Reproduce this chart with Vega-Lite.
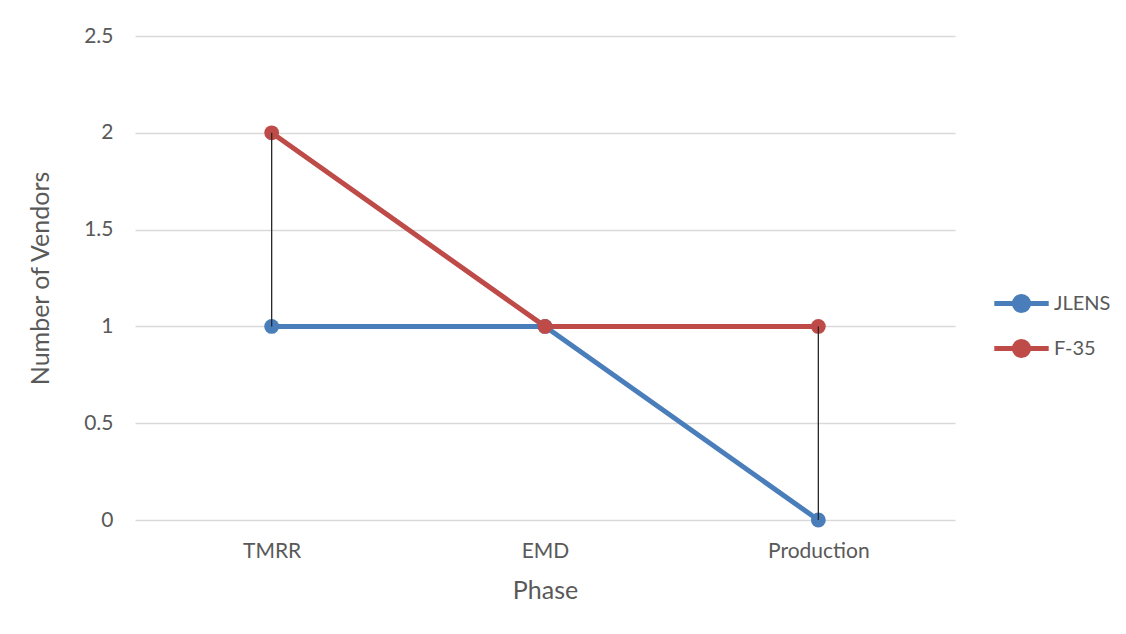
{
  "$schema": "https://vega.github.io/schema/vega-lite/v6.json",
  "width": 820,
  "height": 484,
  "padding": {"left": 135, "top": 36, "right": 171, "bottom": 114},
  "autosize": {"type": "none"},
  "background": "white",
  "config": {
    "font": "Lato",
    "view": {"stroke": null},
    "axis": {
      "labelFont": "Lato",
      "titleFont": "Lato",
      "labelColor": "#595959",
      "titleColor": "#595959",
      "titleFontWeight": "normal",
      "labelFontSize": 21,
      "titleFontSize": 25,
      "gridColor": "#D9D9D9",
      "gridWidth": 1.3,
      "domain": false,
      "ticks": false
    }
  },
  "datasets": {
    "vendors": [
      {"phase": "TMRR", "program": "JLENS", "count": 1},
      {"phase": "EMD", "program": "JLENS", "count": 1},
      {"phase": "Production", "program": "JLENS", "count": 0},
      {"phase": "TMRR", "program": "F-35", "count": 2},
      {"phase": "EMD", "program": "F-35", "count": 1},
      {"phase": "Production", "program": "F-35", "count": 1}
    ],
    "spread": [
      {"phase": "TMRR", "low": 1, "high": 2},
      {"phase": "EMD", "low": 1, "high": 1},
      {"phase": "Production", "low": 0, "high": 1}
    ]
  },
  "layer": [
    {
      "data": {"name": "vendors"},
      "mark": {"type": "line", "strokeWidth": 5, "point": {"filled": true, "size": 220, "opacity": 1}},
      "encoding": {
        "x": {
          "field": "phase",
          "type": "nominal",
          "sort": ["TMRR", "EMD", "Production"],
          "scale": {"type": "point", "padding": 0.5},
          "axis": {"labelAngle": 0, "labelPadding": 20, "title": "Phase", "titlePadding": 17, "grid": false}
        },
        "y": {
          "field": "count",
          "type": "quantitative",
          "scale": {"domain": [0, 2.5], "nice": false},
          "axis": {"values": [0, 0.5, 1, 1.5, 2, 2.5], "format": "~g", "labelPadding": 22, "title": "Number of Vendors", "titlePadding": 30}
        },
        "color": {
          "field": "program",
          "type": "nominal",
          "scale": {"domain": ["JLENS", "F-35"], "range": ["#4A7EBB", "#BE4B48"]},
          "legend": {
            "title": null,
            "orient": "none",
            "legendX": 870,
            "legendY": 251,
            "symbolType": "M-2,0H2M-0.52,0A0.52,0.52 0 1,0 0.52,0A0.52,0.52 0 1,0 -0.52,0Z",
            "symbolSize": 740,
            "symbolStrokeWidth": 5,
            "labelFontSize": 20,
            "labelColor": "#595959",
            "labelFont": "Lato",
            "labelOffset": 16,
            "rowPadding": 10,
            "encode": {"symbols": {"update": {"fillOpacity": {"value": 1}, "opacity": {"value": 1}}}}
          }
        }
      }
    },
    {
      "data": {"name": "spread"},
      "mark": {"type": "rule", "color": "#262626", "strokeWidth": 1.3},
      "encoding": {
        "x": {"field": "phase", "type": "nominal", "sort": ["TMRR", "EMD", "Production"]},
        "y": {"field": "low", "type": "quantitative"},
        "y2": {"field": "high"}
      }
    }
  ]
}
